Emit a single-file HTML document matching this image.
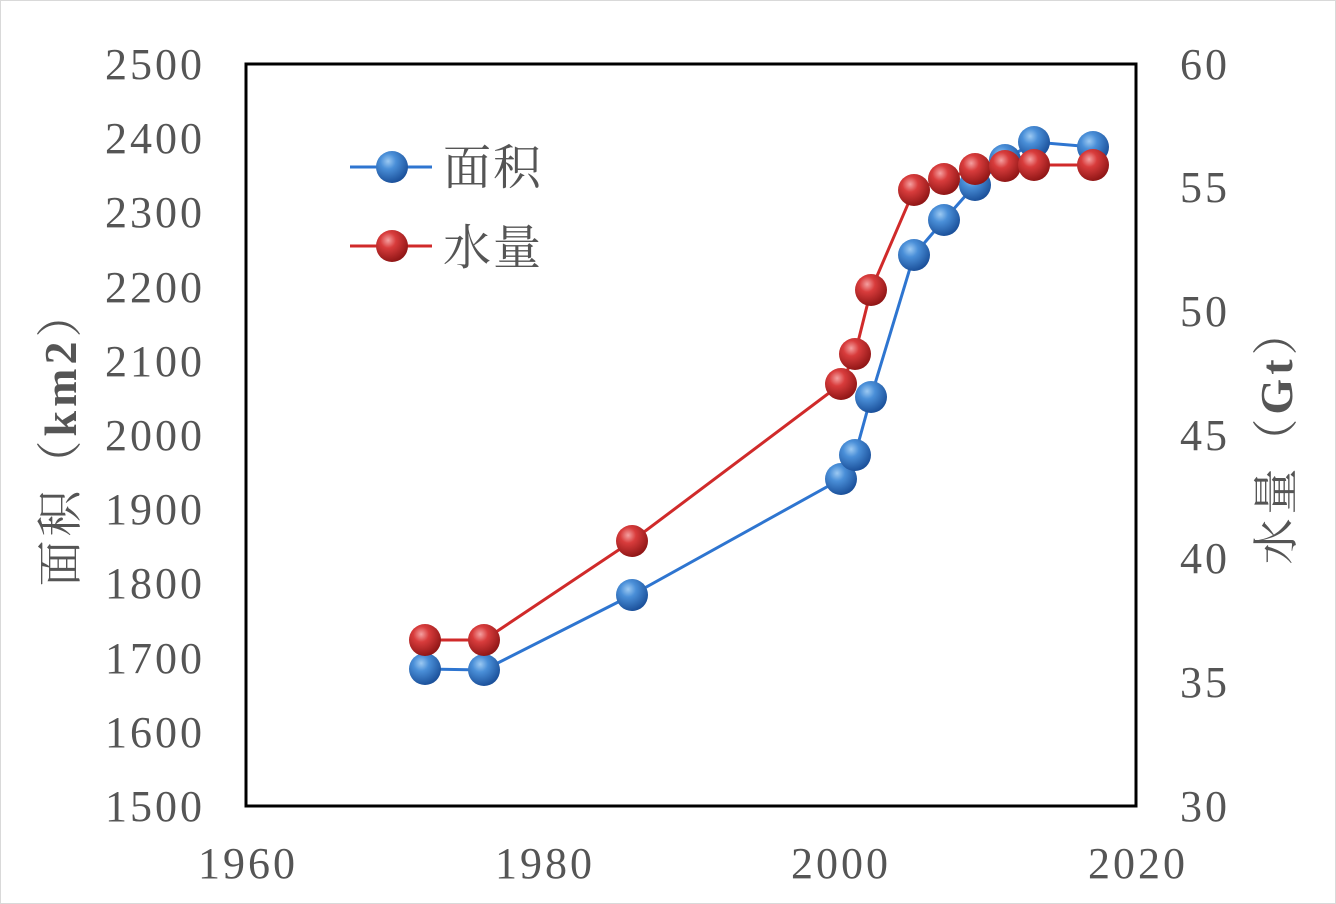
<!DOCTYPE html>
<html><head><meta charset="utf-8"><style>
html,body{margin:0;padding:0;background:#fff}
svg{display:block}
text{font-family:"Liberation Serif","Noto Serif CJK SC",serif;fill:#555}
</style></head><body>
<svg width="1336" height="904" viewBox="0 0 1336 904" xmlns="http://www.w3.org/2000/svg">
<defs>
<radialGradient id="gb" cx="0.38" cy="0.32" r="0.7">
<stop offset="0" stop-color="#9cc9f2"/><stop offset="0.35" stop-color="#4a8fd8"/><stop offset="1" stop-color="#1a4f99"/>
</radialGradient>
<radialGradient id="gr" cx="0.38" cy="0.32" r="0.7">
<stop offset="0" stop-color="#f4a0a0"/><stop offset="0.35" stop-color="#d83c3c"/><stop offset="1" stop-color="#8e1515"/>
</radialGradient>
</defs>
<rect x="0.5" y="0.5" width="1335" height="903" fill="#fff" stroke="#d9d9d9"/>
<rect x="246" y="64" width="890" height="742" fill="#fff" stroke="#000" stroke-width="3"/>
<g font-size="44" text-anchor="end" letter-spacing="3">
<text x="205" y="79">2500</text><text x="205" y="153">2400</text><text x="205" y="227">2300</text>
<text x="205" y="302">2200</text><text x="205" y="376">2100</text><text x="205" y="450">2000</text>
<text x="205" y="524">1900</text><text x="205" y="598">1800</text><text x="205" y="673">1700</text>
<text x="205" y="747">1600</text><text x="205" y="821">1500</text>
</g>
<g font-size="44" text-anchor="start" letter-spacing="3">
<text x="1180" y="79">60</text><text x="1180" y="202">55</text><text x="1180" y="326">50</text>
<text x="1180" y="450">45</text><text x="1180" y="573">40</text><text x="1180" y="697">35</text>
<text x="1180" y="821">30</text>
</g>
<g font-size="44" text-anchor="middle" letter-spacing="3">
<text x="248" y="878">1960</text><text x="545" y="878">1980</text><text x="841" y="878">2000</text><text x="1138" y="878">2020</text>
</g>
<text font-size="46" text-anchor="middle" letter-spacing="4" transform="translate(76,437) rotate(-90)">面积（<tspan font-weight="bold">km2</tspan>）</text>
<text font-size="46" text-anchor="middle" letter-spacing="4" transform="translate(1292,435) rotate(-90)">水量（<tspan font-weight="bold">Gt</tspan>）</text>
<polyline fill="none" stroke="#2e75d0" stroke-width="3" points="425,669 484,670 632,595 841,479 855,455 871,397 914,255 944,220 975,185 1005,160 1034,142 1093,147"/>
<polyline fill="none" stroke="#d02a2a" stroke-width="3" points="425,640 484,640 632,541 841,384 855,354 871,290 914,190 944,179 975,169 1005,166 1034,165 1093,165"/>
<g fill="url(#gb)">
<circle cx="425" cy="669" r="16"/><circle cx="484" cy="670" r="16"/><circle cx="632" cy="595" r="16"/>
<circle cx="841" cy="479" r="16"/><circle cx="855" cy="455" r="16"/><circle cx="871" cy="397" r="16"/>
<circle cx="914" cy="255" r="16"/><circle cx="944" cy="220" r="16"/><circle cx="975" cy="185" r="16"/>
<circle cx="1005" cy="160" r="16"/><circle cx="1034" cy="142" r="16"/><circle cx="1093" cy="147" r="16"/>
</g>
<g fill="url(#gr)">
<circle cx="425" cy="640" r="16"/><circle cx="484" cy="640" r="16"/><circle cx="632" cy="541" r="16"/>
<circle cx="841" cy="384" r="16"/><circle cx="855" cy="354" r="16"/><circle cx="871" cy="290" r="16"/>
<circle cx="914" cy="190" r="16"/><circle cx="944" cy="179" r="16"/><circle cx="975" cy="169" r="16"/>
<circle cx="1005" cy="166" r="16"/><circle cx="1034" cy="165" r="16"/><circle cx="1093" cy="165" r="16"/>
</g>
<line x1="350" y1="167" x2="432" y2="167" stroke="#2e75d0" stroke-width="3"/>
<circle cx="392" cy="167" r="16" fill="url(#gb)"/>
<line x1="350" y1="246" x2="432" y2="246" stroke="#d02a2a" stroke-width="3"/>
<circle cx="392" cy="246" r="16" fill="url(#gr)"/>
<text x="443" y="184" font-size="48" letter-spacing="2">面积</text>
<text x="443" y="264" font-size="48" letter-spacing="2">水量</text>
</svg>
</body></html>
